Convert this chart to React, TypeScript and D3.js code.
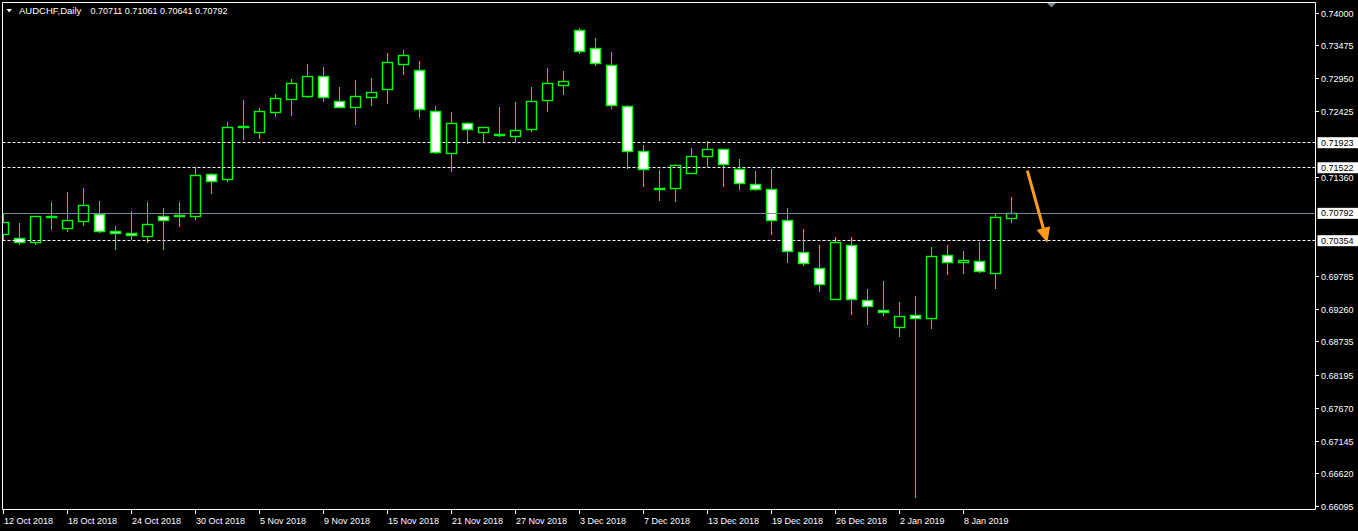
import React from "react";
import * as d3 from "d3";

// AUDCHF daily candles, 12 Oct 2018 - 11 Jan 2019
const dates = [
  "2018-10-12", "2018-10-15", "2018-10-16", "2018-10-17", "2018-10-18", "2018-10-19",
  "2018-10-22", "2018-10-23", "2018-10-24", "2018-10-25", "2018-10-26", "2018-10-29",
  "2018-10-30", "2018-10-31", "2018-11-01", "2018-11-02", "2018-11-05", "2018-11-06",
  "2018-11-07", "2018-11-08", "2018-11-09", "2018-11-12", "2018-11-13", "2018-11-14",
  "2018-11-15", "2018-11-16", "2018-11-19", "2018-11-20", "2018-11-21", "2018-11-22",
  "2018-11-23", "2018-11-26", "2018-11-27", "2018-11-28", "2018-11-29", "2018-11-30",
  "2018-12-03", "2018-12-04", "2018-12-05", "2018-12-06", "2018-12-07", "2018-12-10",
  "2018-12-11", "2018-12-12", "2018-12-13", "2018-12-14", "2018-12-17", "2018-12-18",
  "2018-12-19", "2018-12-20", "2018-12-21", "2018-12-24", "2018-12-26", "2018-12-27",
  "2018-12-28", "2018-12-31", "2019-01-02", "2019-01-03", "2019-01-04", "2019-01-07",
  "2019-01-08", "2019-01-09", "2019-01-10", "2019-01-11",
];

const opens = [
  0.70448, 0.70389, 0.7033, 0.70736, 0.70554, 0.70656, 0.70768, 0.70496, 0.70464, 0.70416,
  0.70736, 0.70738, 0.70736, 0.71408, 0.71328, 0.7216, 0.7208, 0.7241, 0.72608, 0.72661,
  0.72976, 0.72576, 0.7249, 0.7265, 0.72778, 0.73178, 0.73072, 0.72416, 0.71754, 0.72224,
  0.7208, 0.72045, 0.72016, 0.72128, 0.72592, 0.72832, 0.73712, 0.73424, 0.73152, 0.72496,
  0.71776, 0.7118, 0.71194, 0.71434, 0.71706, 0.71808, 0.71488, 0.71248, 0.71168, 0.70672,
  0.7016, 0.69904, 0.69418, 0.70272, 0.69392, 0.6923, 0.6896, 0.69152, 0.69104, 0.70112,
  0.7, 0.70016, 0.69824, 0.70711,
];

const highs = [
  0.70805, 0.70645, 0.70757, 0.70981, 0.71141, 0.71205, 0.70997, 0.70597, 0.70837, 0.70981,
  0.70885, 0.70981, 0.7153, 0.71445, 0.72261, 0.72613, 0.72485, 0.72709, 0.72949, 0.73189,
  0.73141, 0.72821, 0.72933, 0.72965, 0.73365, 0.73413, 0.73237, 0.72517, 0.72421, 0.72261,
  0.72181, 0.72501, 0.72581, 0.72821, 0.73125, 0.73077, 0.73765, 0.73605, 0.73381, 0.72533,
  0.71893, 0.71493, 0.71589, 0.71845, 0.71957, 0.71829, 0.71669, 0.71477, 0.71509, 0.70885,
  0.70549, 0.70293, 0.70421, 0.70421, 0.69573, 0.69701, 0.69365, 0.69461, 0.70261, 0.70293,
  0.70181, 0.70341, 0.70789, 0.71061,
];

const lows = [
  0.70373, 0.70293, 0.70293, 0.70522, 0.70501, 0.70586, 0.70474, 0.70202, 0.70373, 0.70314,
  0.70202, 0.7057, 0.70682, 0.71098, 0.7129, 0.71973, 0.71989, 0.7233, 0.72357, 0.72645,
  0.7257, 0.7248, 0.72213, 0.72517, 0.72549, 0.73013, 0.72325, 0.71749, 0.71461, 0.71898,
  0.71941, 0.7201, 0.71941, 0.72101, 0.7241, 0.72682, 0.73338, 0.73146, 0.72458, 0.71498,
  0.7121, 0.70997, 0.70981, 0.7142, 0.71541, 0.71221, 0.71173, 0.71157, 0.70453, 0.69994,
  0.69946, 0.6953, 0.69402, 0.69162, 0.69002, 0.69146, 0.6881, 0.66234, 0.68938, 0.69802,
  0.69818, 0.69834, 0.69578, 0.70641,
];

const closes = [
  0.7064, 0.7033, 0.70736, 0.70733, 0.70672, 0.70912, 0.70496, 0.70464, 0.70432, 0.70608,
  0.70672, 0.70752, 0.71392, 0.71306, 0.7216, 0.72185, 0.72416, 0.72624, 0.72864, 0.72976,
  0.7264, 0.7249, 0.72656, 0.7272, 0.732, 0.73312, 0.72448, 0.7177, 0.72224, 0.72128,
  0.7216, 0.7205, 0.72112, 0.72576, 0.72864, 0.72896, 0.73386, 0.73184, 0.72512, 0.71786,
  0.71488, 0.71186, 0.71552, 0.71696, 0.71808, 0.71578, 0.71274, 0.71178, 0.70685, 0.70176,
  0.69984, 0.69648, 0.7032, 0.69418, 0.69296, 0.69212, 0.69136, 0.69104, 0.70096, 0.7,
  0.70032, 0.69856, 0.7072, 0.70792,
];

// visible price scale labels (the ones under the level boxes are hidden in MT4)
const priceTicks = [
  "0.74000", "0.73475", "0.72950", "0.72425", "0.71360",
  "0.69785", "0.69260", "0.68735", "0.68195", "0.67670", "0.67145", "0.66620", "0.66095",
];

const dashedLevels = [0.71923, 0.71522, 0.70354];
const lastPrice = 0.70792;

// hand-drawn arrow on the chart (bar index, price)
const arrowFrom = { bar: 63.99, price: 0.71475 };
const arrowTo = { bar: 65.24, price: 0.70322 };

const W = 1358;
const H = 531;
const FONT = "'Liberation Sans', Arial, sans-serif";
const GREEN = "#00ff00";

function App() {
  const parse = d3.utcParse("%Y-%m-%d");
  const fmt = d3.utcFormat("%-d %b %Y");

  const x = d3
    .scaleLinear()
    .domain([0, dates.length - 1])
    .range([3.5, 3.5 + 16 * (dates.length - 1)]);
  const y = d3.scaleLinear().domain([0.66095, 0.74]).range([506.67, 13]);

  const left = 2.5;
  const top = 2.5;
  const right = 1315.5;
  const bottom = 509.5;

  const snap = (v: number) => Math.round(v - 0.5) + 0.5;

  // arrow geometry
  const ax1 = x(arrowFrom.bar);
  const ay1 = y(arrowFrom.price);
  const ax2 = x(arrowTo.bar);
  const ay2 = y(arrowTo.price);
  const len = Math.hypot(ax2 - ax1, ay2 - ay1);
  const ux = (ax2 - ax1) / len;
  const uy = (ay2 - ay1) / len;
  const headLen = 15;
  const headHalf = 7;
  const bx = ax2 - ux * headLen;
  const by = ay2 - uy * headLen;
  const head = [
    [ax2, ay2],
    [bx - uy * headHalf, by + ux * headHalf],
    [bx + uy * headHalf, by - ux * headHalf],
  ]
    .map((p) => p.join(","))
    .join(" ");

  const shiftX = x(dates.length + 1.5);

  const boxLevels = [...dashedLevels, lastPrice];

  return (
    <div style={{ position: "fixed", left: 0, top: 0, width: W, height: H, background: "#000" }}>
      <svg width={W} height={H} style={{ display: "block", fontFamily: FONT }}>
        <defs>
          <clipPath id="plot">
            <rect x={left + 0.5} y={top + 0.5} width={right - left - 1} height={bottom - top - 1} />
          </clipPath>
        </defs>
        <rect width={W} height={H} fill="#000" />

        {/* candles */}
        <g clipPath="url(#plot)">
          {dates.map((d, i) => {
            const cx = x(i);
            const o = opens[i];
            const c = closes[i];
            const yT = snap(y(Math.max(o, c)));
            const yB = snap(y(Math.min(o, c)));
            return (
              <g key={d}>
                <line
                  x1={cx}
                  x2={cx}
                  y1={Math.round(y(highs[i]))}
                  y2={Math.round(y(lows[i]))}
                  stroke={GREEN}
                  strokeWidth={1}
                />
                <rect
                  x={cx - 5}
                  y={yT}
                  width={10}
                  height={Math.max(0, yB - yT)}
                  fill={c > o ? "#000" : "#fff"}
                  stroke={GREEN}
                  strokeWidth={1.4}
                />
              </g>
            );
          })}

          {/* horizontal levels */}
          {dashedLevels.map((v) => (
            <line
              key={v}
              x1={left}
              x2={right}
              y1={snap(y(v))}
              y2={snap(y(v))}
              stroke="#fff"
              strokeWidth={1}
              strokeDasharray="3,2"
            />
          ))}
          <line
            x1={left}
            x2={right}
            y1={snap(y(lastPrice))}
            y2={snap(y(lastPrice))}
            stroke="#778899"
            strokeWidth={1}
          />

          {/* arrow */}
          <line x1={ax1} y1={ay1} x2={bx} y2={by} stroke="#ff9c1a" strokeWidth={3} />
          <polygon points={head} fill="#ff9c1a" />
        </g>

        {/* frame */}
        <path
          d={`M${left},${top}H${right}V${bottom}H${left}Z`}
          fill="none"
          stroke="#fff"
          strokeWidth={1}
        />

        {/* chart shift marker */}
        <polygon
          points={`${shiftX - 4.5},${top + 0.5} ${shiftX + 4.5},${top + 0.5} ${shiftX},${top + 5}`}
          fill="#778899"
        />

        {/* price axis */}
        {priceTicks.map((t) => {
          const ty = snap(y(+t));
          return (
            <g key={t}>
              <line x1={right} x2={right + 3.5} y1={ty} y2={ty} stroke="#fff" strokeWidth={1} />
              <text x={right + 5.5} y={ty} dy="0.35em" fill="#fff" fontSize={9}>
                {t}
              </text>
            </g>
          );
        })}

        {/* price labels on the axis */}
        {boxLevels.map((v) => {
          const ty = y(v);
          return (
            <g key={"b" + v}>
              <rect x={right + 2} y={ty - 5.5} width={W - right - 2} height={11} fill="#fff" />
              <text x={right + 5.5} y={ty} dy="0.35em" fill="#000" fontSize={9}>
                {v.toFixed(5)}
              </text>
            </g>
          );
        })}

        {/* time axis */}
        {dates.map((d, i) =>
          i % 4 === 0 ? (
            <g key={"t" + d}>
              <line x1={x(i)} x2={x(i)} y1={bottom} y2={bottom + 4.5} stroke="#fff" strokeWidth={1} />
              <text x={x(i) + 0.5} y={523.5} fill="#fff" fontSize={9}>
                {fmt(parse(d) as Date)}
              </text>
            </g>
          ) : null
        )}

        {/* title */}
        <polygon points="6.5,9 12,9 9.25,12.5" fill="#fff" />
        <text x={19} y={13.7} fill="#fff" fontSize={9.5}>
          AUDCHF,Daily
        </text>
        <text x={90.5} y={13.7} fill="#fff" fontSize={9}>
          {[opens, highs, lows, closes].map((a) => a[a.length - 1].toFixed(5)).join(" ")}
        </text>
      </svg>
    </div>
  );
}

export default App;
